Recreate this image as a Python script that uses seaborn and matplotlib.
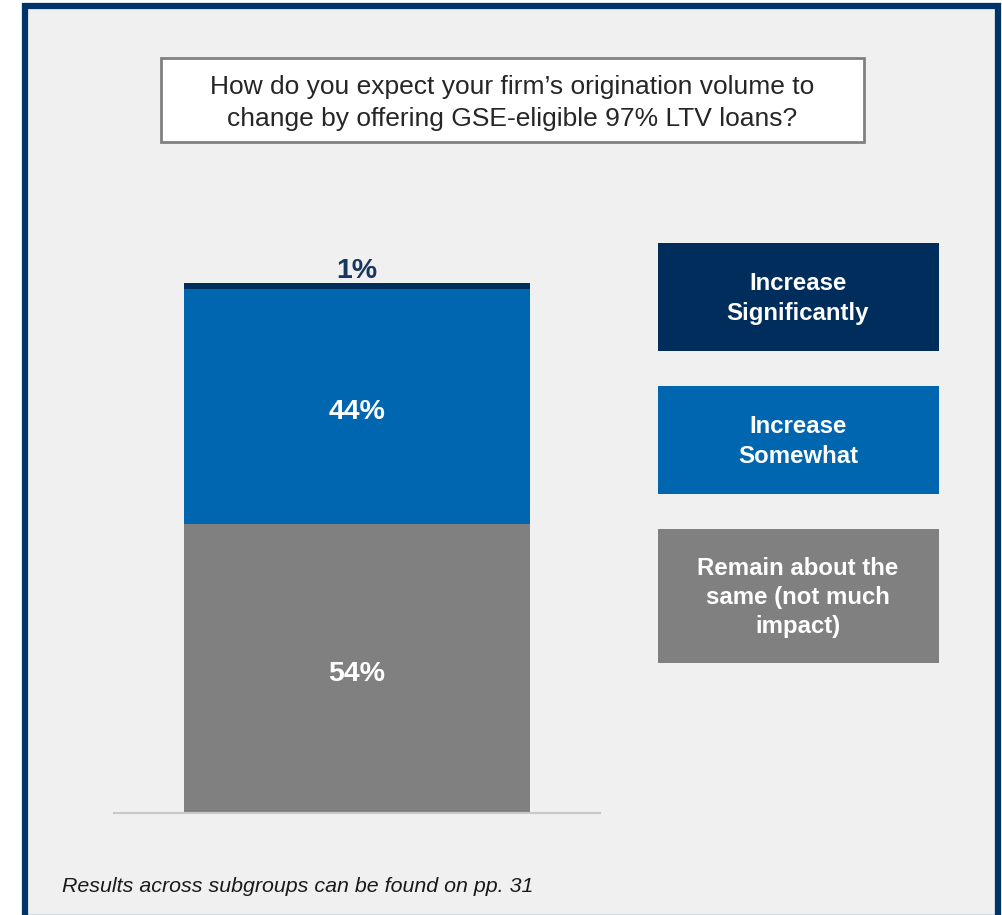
import matplotlib
matplotlib.use("Agg")
import matplotlib.pyplot as plt
from matplotlib.patches import Rectangle
import seaborn as sns
import pandas as pd

# Survey responses (share of respondents, %)
categories = ["Remain about the\nsame (not much\nimpact)", "Increase\nSomewhat", "Increase\nSignificantly"]
values = [54, 44, 1]
value_labels = ["54%", "44%", "1%"]
colors = ["#808080", "#0066B0", "#002D5C"]

question = "How do you expect your firm\u2019s origination volume to\nchange by offering GSE-eligible 97% LTV loans?"
footnote = "Results across subgroups can be found on pp. 31"

sns.set_theme(style="white")
plt.rcParams["font.family"] = ["Liberation Sans", "DejaVu Sans"]

W, H = 1003, 915
fig = plt.figure(figsize=(W / 100, H / 100), dpi=100)
fig.patch.set_facecolor("white")


def fx(x):
    return x / W


def fy(y):
    return 1 - y / H


def box(x0, y0, x1, y1, **kw):
    r = Rectangle((fx(x0), fy(y1)), fx(x1) - fx(x0), fy(y0) - fy(y1),
                  transform=fig.transFigure, **kw)
    fig.add_artist(r)
    return r


# panel frame
box(25, 6, 998, 918, facecolor="#F0F0F0", edgecolor="#003366", linewidth=4.5, zorder=0)

# question box
box(161, 58, 864, 142, facecolor="white", edgecolor="#808080", linewidth=2, zorder=1)
fig.text(fx(512), fy(103), question, ha="center", va="center", fontsize=19,
         color="#262626", linespacing=1.45, zorder=2)

# stacked bar
ax = fig.add_axes([fx(114), fy(813), fx(600) - fx(114), fy(278) - fy(813)])
ax.set_facecolor("none")
df = pd.DataFrame({"group": ["all"] * 3, "cat": categories, "val": values})
bottom = 0
for cat, val, col in zip(categories, values, colors):
    sns.barplot(data=df[df["cat"] == cat], x="group", y="val", color=col,
                width=0.712, bottom=bottom, ax=ax, errorbar=None, saturation=1,
                edgecolor="none", linewidth=0)
    bottom += val
ax.set_xlim(-0.5, 0.5)
ax.set_ylim(0, 100)

# value labels
bottom = 0
for val, lab in zip(values, value_labels):
    if val >= 5:
        ax.text(0, bottom + val / 2 - 1.1, lab, ha="center", va="center", fontsize=20.5,
                fontweight="bold", color="white")
    else:
        ax.text(0, bottom + val - 0.1, lab, ha="center", va="bottom", fontsize=20.5,
                fontweight="bold", color="#17375E")
    bottom += val

for s in ["top", "right", "left"]:
    ax.spines[s].set_visible(False)
ax.spines["bottom"].set_color("#C8C8C8")
ax.spines["bottom"].set_linewidth(1.5)
ax.set_xticks([])
ax.set_yticks([])
ax.set_xlabel("")
ax.set_ylabel("")

# legend blocks
legend_rows = [(243, 351), (386, 494), (529, 663)]
for (y0, y1), cat, col in zip(legend_rows, categories[::-1], colors[::-1]):
    box(658, y0, 939, y1, facecolor=col, edgecolor="none", zorder=1)
    fig.text(fx(798), fy((y0 + y1) / 2 + 1.5), cat, ha="center", va="center", fontsize=17.3,
             fontweight="bold", color="white", linespacing=1.35, zorder=2)

fig.text(fx(62), fy(886), footnote, ha="left", va="center", fontsize=15.4,
         style="italic", color="#1a1a1a")

fig.savefig("out.png", dpi=100, facecolor="white")
